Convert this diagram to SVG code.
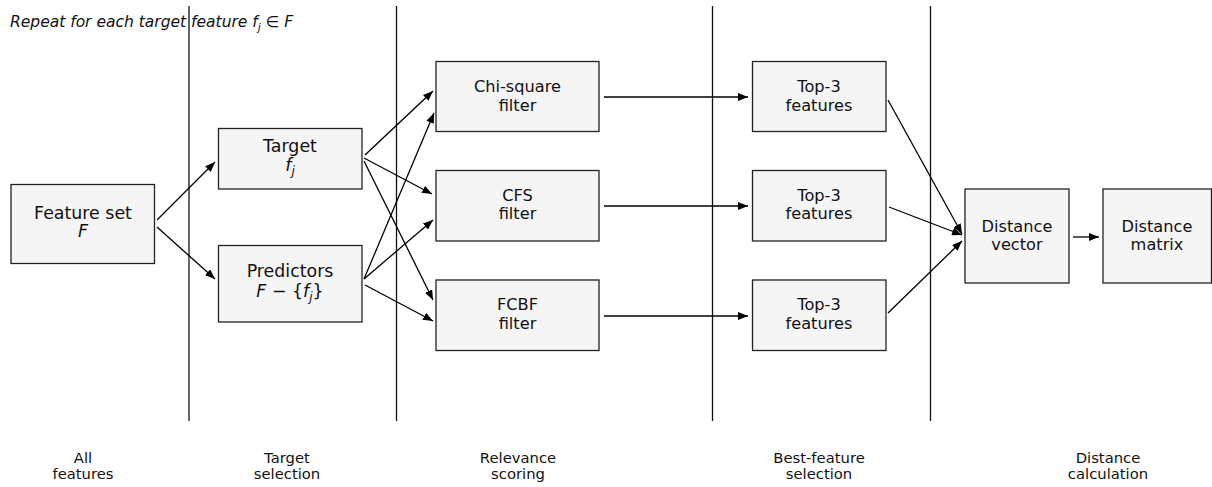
<svg xmlns="http://www.w3.org/2000/svg" width="1212" height="487" viewBox="0 0 1212 487">
<style>
text{font-family:"DejaVu Sans","Liberation Sans",sans-serif;fill:#111;}
.box{fill:#f5f5f5;stroke:#222;stroke-width:1.3;}
.big{font-size:17.4px;text-anchor:middle;}
.lbl{font-size:16.2px;text-anchor:middle;}
.stage{font-size:14.8px;text-anchor:middle;}
.it{font-style:italic;}
.div{stroke:#111;stroke-width:1.3;}
.con{stroke:#000;stroke-width:1.3;fill:none;marker-end:url(#ah);}
</style>
<defs>
<marker id="ah" viewBox="0 0 10 8" refX="10" refY="4" markerWidth="10" markerHeight="8" markerUnits="userSpaceOnUse" orient="auto">
<path d="M0,0 L10,4 L0,8 Z" fill="#000"/>
</marker>
</defs>
<rect width="1212" height="487" fill="#fff"/>
<text x="10" y="27" style="font-size:15.5px" class="it">Repeat for each target feature f<tspan dy="4" style="font-size:11px">j</tspan><tspan dy="-4" style="font-style:normal"> ∈ </tspan>F</text>
<g id="dividers">
<line class="div" x1="189" y1="6" x2="189" y2="421"/>
<line class="div" x1="396.5" y1="6" x2="396.5" y2="421"/>
<line class="div" x1="712.5" y1="6" x2="712.5" y2="421"/>
<line class="div" x1="930.5" y1="6" x2="930.5" y2="421"/>
</g>
<g id="connectors">
<line class="con" x1="157" y1="220" x2="215" y2="162"/>
<line class="con" x1="157" y1="227" x2="215" y2="279"/>
<line class="con" x1="365" y1="155" x2="433" y2="91"/>
<line class="con" x1="364" y1="158" x2="432" y2="194"/>
<line class="con" x1="364" y1="161" x2="433" y2="300"/>
<line class="con" x1="364" y1="279" x2="434" y2="113"/>
<line class="con" x1="364" y1="279" x2="433" y2="220"/>
<line class="con" x1="365" y1="285" x2="433" y2="321"/>
<line class="con" x1="604" y1="97" x2="748" y2="97"/>
<line class="con" x1="604" y1="206" x2="748" y2="206"/>
<line class="con" x1="604" y1="316" x2="748" y2="316"/>
<line class="con" x1="888" y1="100" x2="962" y2="234"/>
<line class="con" x1="889" y1="207" x2="962" y2="235"/>
<line class="con" x1="888" y1="313" x2="962" y2="241"/>
<line class="con" x1="1073" y1="237" x2="1099" y2="237"/>
</g>
<g id="feature-set">
<rect class="box" x="11" y="184.5" width="143.5" height="79"/>
<text class="big" x="83" y="219">Feature set</text>
<text class="big it" x="83" y="237">F</text>
</g>
<g id="target">
<rect class="box" x="218.5" y="128.5" width="143.5" height="60.5"/>
<text class="big" x="290" y="152">Target</text>
<text class="big it" x="290" y="171">f<tspan dy="4" style="font-size:12px">j</tspan></text>
</g>
<g id="predictors">
<rect class="box" x="218.5" y="245.5" width="143.5" height="76.5"/>
<text class="big" x="290" y="277">Predictors</text>
<text class="big" x="290" y="296.5"><tspan class="it">F</tspan> − {<tspan class="it">f</tspan><tspan class="it" dy="4" style="font-size:12px">j</tspan><tspan dy="-4">}</tspan></text>
</g>
<g id="chi-square">
<rect class="box" x="436" y="61.5" width="163" height="70"/>
<text class="lbl" x="517.5" y="92">Chi-square</text>
<text class="lbl" x="517.5" y="110.5">filter</text>
</g>
<g id="cfs">
<rect class="box" x="436" y="170.5" width="163" height="70.5"/>
<text class="lbl" x="517.5" y="200.5">CFS</text>
<text class="lbl" x="517.5" y="219">filter</text>
</g>
<g id="fcbf">
<rect class="box" x="436" y="280" width="163" height="70.5"/>
<text class="lbl" x="517.5" y="310">FCBF</text>
<text class="lbl" x="517.5" y="328.5">filter</text>
</g>
<g id="top3-a">
<rect class="box" x="752.5" y="61.5" width="133.5" height="70"/>
<text class="lbl" x="819" y="92">Top-3</text>
<text class="lbl" x="819" y="110.5">features</text>
</g>
<g id="top3-b">
<rect class="box" x="752.5" y="170.5" width="133.5" height="70.5"/>
<text class="lbl" x="819" y="200.5">Top-3</text>
<text class="lbl" x="819" y="219">features</text>
</g>
<g id="top3-c">
<rect class="box" x="752.5" y="280" width="133.5" height="70.5"/>
<text class="lbl" x="819" y="310">Top-3</text>
<text class="lbl" x="819" y="328.5">features</text>
</g>
<g id="distance-vector">
<rect class="box" x="965" y="189" width="104" height="94"/>
<text class="lbl" x="1017" y="231.5">Distance</text>
<text class="lbl" x="1017" y="249.5">vector</text>
</g>
<g id="distance-matrix">
<rect class="box" x="1103" y="189" width="108.5" height="94"/>
<text class="lbl" x="1157" y="231.5">Distance</text>
<text class="lbl" x="1157" y="249.5">matrix</text>
</g>
<g id="stage-labels">
<text class="stage" x="83" y="462.5">All</text>
<text class="stage" x="83" y="478.5">features</text>
<text class="stage" x="287" y="462.5">Target</text>
<text class="stage" x="287" y="478.5">selection</text>
<text class="stage" x="518" y="462.5">Relevance</text>
<text class="stage" x="518" y="478.5">scoring</text>
<text class="stage" x="819" y="462.5">Best-feature</text>
<text class="stage" x="819" y="478.5">selection</text>
<text class="stage" x="1108" y="462.5">Distance</text>
<text class="stage" x="1108" y="478.5">calculation</text>
</g>
</svg>
